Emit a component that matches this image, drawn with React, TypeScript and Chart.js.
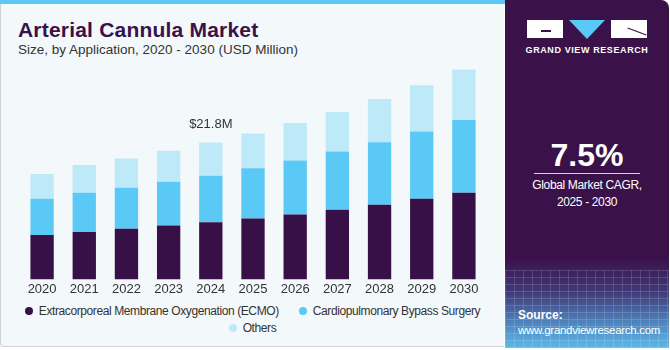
import React, { useEffect, useRef } from "react";
import { Chart, registerables } from "chart.js";

Chart.register(...registerables);

const years = ["2020", "2021", "2022", "2023", "2024", "2025", "2026", "2027", "2028", "2029", "2030"];
const ecmo = [7.09, 7.57, 8.05, 8.58, 9.12, 9.7, 10.34, 11.09, 11.89, 12.85, 13.81];
const cpb = [5.76, 6.24, 6.56, 6.99, 7.41, 8.0, 8.59, 9.28, 9.97, 10.72, 11.57];
const others = [3.95, 4.43, 4.64, 4.91, 5.27, 5.55, 5.97, 6.29, 6.88, 7.36, 8.06];
const seriesNames = ["Extracorporeal Membrane Oxygenation (ECMO)", "Cardiopulmonary Bypass Surgery", "Others"];
const seriesColors = ["#381048", "#5bc9f5", "#bde9f9"];
const calloutIndex = 4;
const calloutText = "$21.8M";

const FONT = "'Liberation Sans', Arial, sans-serif";

function ChartCanvas() {
  const ref = useRef<HTMLCanvasElement | null>(null);
  useEffect(() => {
    if (!ref.current) return;
    const callout = {
      id: "callout",
      afterDatasetsDraw(chart: any) {
        const { ctx, scales } = chart;
        const total = ecmo[calloutIndex] + cpb[calloutIndex] + others[calloutIndex];
        const x = scales.x.getPixelForValue(calloutIndex);
        const y = scales.y.getPixelForValue(total) - 18;
        ctx.save();
        ctx.font = `13px ${FONT}`;
        ctx.fillStyle = "#333333";
        ctx.textAlign = "center";
        ctx.textBaseline = "middle";
        ctx.fillText(calloutText, x, y);
        ctx.restore();
      },
    };
    const data = [ecmo, cpb, others];
    const chart = new Chart(ref.current, {
      type: "bar",
      data: {
        labels: years,
        datasets: data.map((d, i) => ({
          label: seriesNames[i],
          data: d,
          backgroundColor: seriesColors[i],
          borderWidth: 0,
          categoryPercentage: 1,
          barPercentage: 0.553,
        })),
      },
      options: {
        animation: false,
        responsive: false,
        maintainAspectRatio: false,
        layout: { padding: { left: 21, right: 15, top: 3, bottom: 4 } },
        plugins: { legend: { display: false }, tooltip: { enabled: false } },
        scales: {
          x: {
            stacked: true,
            grid: { display: false, drawTicks: false },
            border: { display: false },
            ticks: { color: "#333333", font: { family: FONT, size: 13 }, padding: 2, maxRotation: 0 },
          },
          y: { stacked: true, display: false, min: 0, max: 34 },
        },
      },
      plugins: [callout],
    });
    return () => chart.destroy();
  }, []);
  return (
    <canvas
      ref={ref}
      width={500}
      height={240}
      style={{ position: "absolute", left: 0, top: 63, width: 500, height: 240 }}
    />
  );
}

export default function App() {
  return (
    <div style={{ position: "fixed", left: 0, top: 0, width: 670, height: 350, background: "#ffffff", overflow: "hidden", fontFamily: FONT }}>
      {/* left panel */}
      <div style={{ position: "absolute", left: 0, top: 0, width: 504, height: 347, background: "#f3f8fb", borderLeft: "1px solid #cfd3d6", borderBottom: "1px solid #cfd3d6", borderBottomLeftRadius: 4, boxSizing: "border-box" }} />
      <div style={{ position: "absolute", left: 0, top: 0, width: 506, height: 4, background: "#5bc9f5" }} />
      <div style={{ position: "absolute", left: 18, top: 18, fontSize: 21, fontWeight: 900, color: "#3a1148", whiteSpace: "nowrap", letterSpacing: 0.2 }}>Arterial Cannula Market</div>
      <div style={{ position: "absolute", left: 18, top: 42, fontSize: 13.5, color: "#333333", whiteSpace: "nowrap" }}>Size, by Application, 2020 - 2030 (USD Million)</div>
      <ChartCanvas />
      {/* legend */}
      <div style={{ position: "absolute", left: 0, top: 304, width: 505, display: "flex", flexWrap: "wrap", justifyContent: "center", rowGap: 3, columnGap: 20, fontSize: 12, letterSpacing: -0.4, color: "#333333" }}>
        {seriesNames.map((n, i) => (
          <div key={n} style={{ display: "flex", alignItems: "center", height: 14, flexBasis: i === 2 ? "100%" : "auto", justifyContent: "center" }}>
            <span style={{ display: "inline-block", width: 8, height: 8, borderRadius: 4, background: seriesColors[i], marginRight: 6 }} />
            <span style={{ whiteSpace: "nowrap" }}>{n}</span>
          </div>
        ))}
      </div>
      {/* right panel */}
      <div style={{ position: "absolute", left: 505, top: 0, width: 164, height: 348, borderTopRightRadius: 8, overflow: "hidden", background: "linear-gradient(180deg, #3a1148 0%, #3a1148 74%, #3f3a78 84%, #4f86c0 93%, #5bb9e8 100%)" }}>
        <div style={{ position: "absolute", left: 0, top: 270, width: 164, height: 78, opacity: 0.25, backgroundImage: "repeating-linear-gradient(90deg, rgba(255,255,255,0.6) 0 1px, transparent 1px 9px), repeating-linear-gradient(0deg, rgba(255,255,255,0.6) 0 1px, transparent 1px 7px)" }} />
        {/* logo */}
        <div style={{ position: "absolute", left: 22, top: 20, width: 36, height: 18, background: "#ffffff" }} />
        <div style={{ position: "absolute", left: 36, top: 30, width: 10, height: 2, background: "#3a1148" }} />
        <div style={{ position: "absolute", left: 64, top: 20, width: 0, height: 0, borderLeft: "18px solid transparent", borderRight: "18px solid transparent", borderTop: "19px solid #5bc9f5" }} />
        <div style={{ position: "absolute", left: 106, top: 20, width: 36, height: 18, background: "#ffffff" }} />
        <div style={{ position: "absolute", left: 122, top: 31, width: 20, height: 1, background: "#3a1148", transform: "rotate(20deg)" }} />
        <div style={{ position: "absolute", left: 0, top: 45, width: 164, textAlign: "center", color: "#ffffff", fontSize: 9, fontWeight: 700, letterSpacing: 0.6 }}>GRAND VIEW RESEARCH</div>
        {/* CAGR */}
        <div style={{ position: "absolute", left: 0, top: 137, width: 164, textAlign: "center", color: "#ffffff", fontSize: 32, fontWeight: 700, lineHeight: "36px" }}>7.5%</div>
        <div style={{ position: "absolute", left: 29, top: 173, width: 106, height: 1, background: "#d8cfe0" }} />
        <div style={{ position: "absolute", left: 0, top: 177, width: 164, textAlign: "center", color: "#ffffff", fontSize: 12, letterSpacing: -0.35, lineHeight: "17px" }}>
          Global Market CAGR,<br />2025 - 2030
        </div>
        {/* source */}
        <div style={{ position: "absolute", left: 13, top: 308, color: "#ffffff", fontSize: 12, fontWeight: 700, lineHeight: "15px" }}>Source:</div>
        <div style={{ position: "absolute", left: 13, top: 323, color: "#ffffff", fontSize: 11.5, letterSpacing: -0.3, lineHeight: "15px", whiteSpace: "nowrap" }}>www.grandviewresearch.com</div>
      </div>
    </div>
  );
}
